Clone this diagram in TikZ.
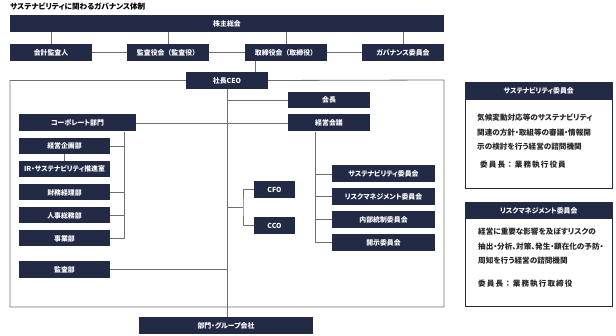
\documentclass[tikz,border=0pt]{standalone}
\usepackage{fontspec}
\setmainfont{Noto Sans CJK JP}[RawFeature=+palt]
\newfontfamily\fullw{Noto Sans CJK JP}
\newfontfamily\fullwide{Noto Sans CJK JP}[LetterSpace=14]
\definecolor{navy}{HTML}{232A45}
\definecolor{linegray}{HTML}{707070}
\begin{document}
\begin{tikzpicture}[x=1pt,y=-1pt,
  box/.style={fill=navy,text=white,inner sep=0pt,minimum height=17pt,
    font=\bfseries\fontsize{6.9}{8}\selectfont},
  conn/.style={draw=linegray,line width=0.8pt},
  note/.style={anchor=north west,align=left,inner sep=0pt,text=black!85,
    font=\bfseries\fontsize{7.6}{14.4}\selectfont}]
\useasboundingbox (0,0) rectangle (616,336);

\node[anchor=west,inner sep=0pt,font=\bfseries\fontsize{7.6}{8}\selectfont] (title) at (10,6.5) {サステナビリティに関わるガバナンス体制};

% top rows
\node[box,minimum width=434pt] (kabu) at (227,23.5) {株主総会};
\node[box,minimum width=82pt] (kaikei) at (51,52.5) {会計監査人};
\node[box,minimum width=82pt] (kansa) at (168,52.5) {\fullw 監査役会（監査役）};
\node[box,minimum width=82pt] (torishimari) at (286,52.5) {\fullw 取締役会（取締役）};
\node[box,minimum width=82pt] (gov) at (403,52.5) {ガバナンス委員会};
\node[box,minimum width=82pt] (ceo) at (227,80.5) {社長CEO};

\foreach \n in {kaikei,kansa,torishimari,gov}
  \draw[conn] (\n.north) -- (\n.north |- kabu.south);
\draw[conn] (kaikei.east) -- (kansa.west);
\draw[conn] (kansa.east) -- (torishimari.west);
\draw[conn] (torishimari.east) -- (gov.west);
\draw[conn] ([xshift=-31pt]torishimari.south) -- ([xshift=-31pt]torishimari.south |- ceo.north);

% frame round the executive side
\coordinate (fbl) at (10,307);
\coordinate (ftr) at (444,80);
\draw[conn] (ceo.west) -| (fbl) -| (ftr) -- (ceo.east);

% executive side
\node[box,minimum width=82pt,minimum height=16pt] (kaicho) at (329,100) {会長};
\node[box,minimum width=82pt] (keiei) at (329,123) {経営会議};
\node[box,minimum width=117pt] (corp) at (77.5,123) {コーポレート部門};
\node[box,minimum width=91pt,minimum height=16pt] (kikaku) at (64.5,146) {経営企画部};
\node[box,minimum width=91pt,minimum height=16pt] (ir) at (64.5,169) {IR・サステナビリティ推進室};
\node[box,minimum width=91pt,minimum height=16pt] (zaimu) at (64.5,192.5) {財務経理部};
\node[box,minimum width=91pt,minimum height=16pt] (jinji) at (64.5,215.5) {人事総務部};
\node[box,minimum width=91pt,minimum height=16pt] (jigyo) at (64.5,238.5) {事業部};
\node[box,minimum width=91pt] (kansabu) at (64.5,269.5) {監査部};
\node[box,minimum width=41pt] (cfo) at (274.5,189.5) {CFO};
\node[box,minimum width=41pt] (cco) at (274.5,225.5) {CCO};
\node[box,minimum width=103pt] (susiin) at (383.5,174) {サステナビリティ委員会};
\node[box,minimum width=103pt] (riskiin) at (383.5,196.5) {リスクマネジメント委員会};
\node[box,minimum width=103pt] (naibu) at (383.5,219.5) {内部統制委員会};
\node[box,minimum width=103pt] (kaiji) at (383.5,242.5) {開示委員会};
\node[box,minimum width=174pt] (bumon) at (226,325.5) {部門・グループ会社};

\draw[conn] (ceo.south) -- (ceo.south |- bumon.north);
\draw[conn] (ceo.south |- kaicho.west) -- (kaicho.west);
\draw[conn] (corp.east) -- (keiei.west);
\foreach \n in {susiin,riskiin,naibu,kaiji}
  \draw[conn] ([xshift=-14pt]keiei.south) |- (\n.west);
\foreach \n in {kikaku,zaimu,jinji,jigyo}
  \draw[conn] ([xshift=46.5pt]corp.south) |- (\n.east);
\draw[conn] (kikaku.south) -- (ir.north);
\coordinate (br) at (243,207.5);
\draw[conn] (cfo.west) -| (br) |- (cco.west);
\draw[conn] (ceo.south |- br) -- (br);
\draw[conn] (kansabu.east) -- (ceo.south |- kansabu.east);

% side panels
\draw[draw=navy,line width=0.8pt] (465,82) rectangle (612,188);
\node[box,minimum width=147pt,minimum height=18pt,anchor=north west] (sushead) at (465,82) {サステナビリティ委員会};
\node[note] (susbody) at (477,114) {気候変動対応等のサステナビリティ\\関連の方針・取組等の審議・情報開\\示の検討を行う経営の諮問機関};
\node[note,anchor=west,font=\fullwide\bfseries\fontsize{7.6}{8}\selectfont] (suschair) at (480,165) {委員長：業務執行役員};

\draw[draw=navy,line width=0.8pt] (465,202) rectangle (612,306);
\node[box,minimum width=147pt,minimum height=17pt,anchor=north west] (riskhead) at (465,202) {リスクマネジメント委員会};
\node[note] (riskbody) at (478,228) {経営に重要な影響を及ぼすリスクの\\抽出・分析、対策、発生・顕在化の予防・\\周知を行う経営の諮問機関};
\node[note,anchor=west,font=\fullwide\bfseries\fontsize{7.6}{8}\selectfont] (riskchair) at (478,284) {委員長：業務執行取締役};
\end{tikzpicture}
\end{document}
